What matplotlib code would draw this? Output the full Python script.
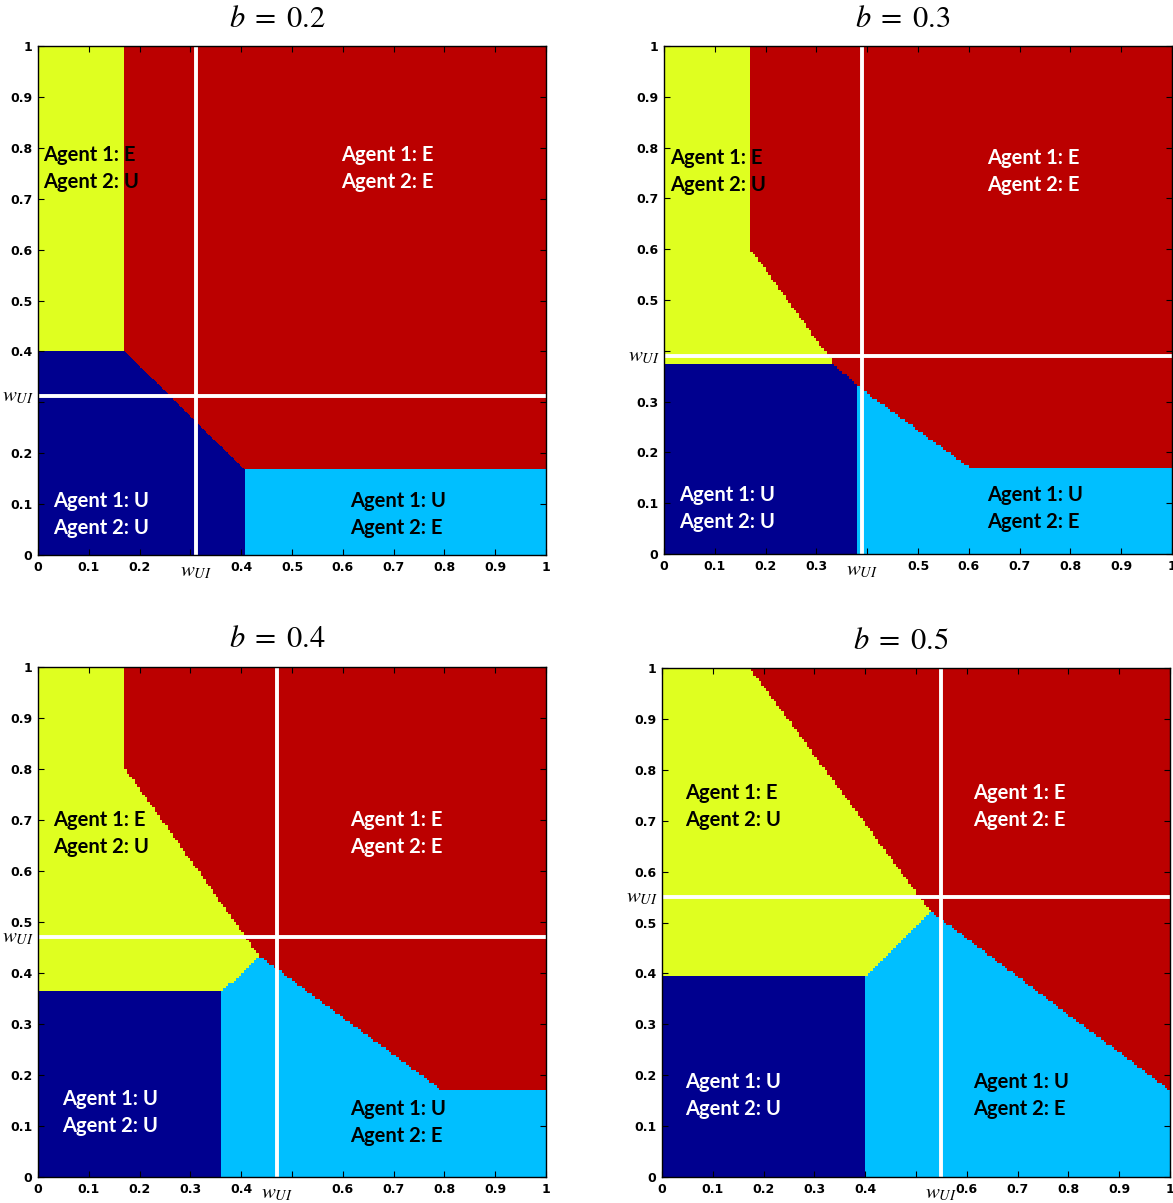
import matplotlib
matplotlib.use('Agg')
import matplotlib.pyplot as plt
import numpy as np

from matplotlib.colors import ListedColormap
from matplotlib.path import Path

# regime colours (jet-like): 0 = U/U, 1 = U/E, 2 = E/U, 3 = E/E
region_colors = ['#00008f', '#00bfff', '#dfff20', '#bb0000']

b_values = [0.2, 0.3, 0.4, 0.5]
w_ui = [0.312, 0.39, 0.47, 0.55]

# corners of each regime polygon, one list per panel; E/E fills the rest
yellow_regions = [
    [(0, 0.402), (0.169, 0.402), (0.169, 1), (0, 1)],
    [(0, 0.375), (0.334, 0.375), (0.171, 0.599), (0.171, 1), (0, 1)],
    [(0, 0.363), (0.362, 0.363), (0.436, 0.433), (0.169, 0.804), (0.169, 1), (0, 1)],
    [(0, 0.397), (0.402, 0.397), (0.528, 0.522), (0.173, 1), (0, 1)],
]
blue_regions = [
    [(0, 0), (0.406, 0), (0.406, 0.168), (0.169, 0.402), (0, 0.402)],
    [(0, 0), (0.381, 0), (0.381, 0.33), (0.334, 0.375), (0, 0.375)],
    [(0, 0), (0.362, 0), (0.362, 0.363), (0, 0.363)],
    [(0, 0), (0.402, 0), (0.402, 0.397), (0, 0.397)],
]
cyan_regions = [
    [(0.406, 0), (1, 0), (1, 0.168), (0.406, 0.168)],
    [(0.381, 0), (1, 0), (1, 0.169), (0.603, 0.169), (0.381, 0.33)],
    [(0.362, 0), (1, 0), (1, 0.168), (0.798, 0.168), (0.436, 0.433), (0.362, 0.363)],
    [(0.402, 0), (1, 0), (1, 0.17), (0.528, 0.522), (0.402, 0.397)],
]

# tick labels that give way to the w_UI label
hidden_xtick = ['0.3', '0.4', '0.5', '0.5']
hidden_ytick = ['0.3', '0.4', None, None]

region_text = ['Agent 1: E\nAgent 2: U', 'Agent 1: E\nAgent 2: E',
               'Agent 1: U\nAgent 2: U', 'Agent 1: U\nAgent 2: E']
text_colors = ['black', 'white', 'white', 'black']

# where the regime labels sit (left edge, vertical centre) in each panel
text_pos = [
    [(0.01, 0.76), (0.596, 0.76), (0.03, 0.079), (0.615, 0.079)],
    [(0.012, 0.753), (0.637, 0.753), (0.03, 0.089), (0.637, 0.09)],
    [(0.03, 0.673), (0.615, 0.673), (0.047, 0.126), (0.615, 0.107)],
    [(0.045, 0.728), (0.613, 0.728), (0.045, 0.16), (0.613, 0.16)],
]

W, H = 1173, 1203
# axes boxes in pixels: left, top, right, bottom
boxes = [(38, 46, 546, 555), (664, 46, 1172, 554),
         (38, 667, 546, 1177), (662, 668, 1170, 1177)]
# grid resolution per panel (first panel has a smooth diagonal)
grid_n = [600, 200, 200, 200]

plt.rcParams['mathtext.fontset'] = 'stix'

cmap = ListedColormap(region_colors)
ticks = np.round(np.arange(0, 1.01, 0.1), 1)

fig = plt.figure(figsize=(W / 100, H / 100), dpi=100)

for i in range(4):
    l, t, r, b = boxes[i]
    ax = fig.add_axes([l / W, 1 - b / H, (r - l) / W, (b - t) / H])

    n = grid_n[i]
    cells = (np.arange(n) + 0.5) / n
    gx, gy = np.meshgrid(cells, cells)
    pts = np.column_stack([gx.ravel(), gy.ravel()])
    grid = np.full(n * n, 3)
    grid[Path(yellow_regions[i]).contains_points(pts)] = 2
    grid[Path(blue_regions[i]).contains_points(pts)] = 0
    grid[Path(cyan_regions[i]).contains_points(pts)] = 1
    ax.imshow(grid.reshape(n, n), cmap=cmap, vmin=-0.5, vmax=3.5, origin='lower',
              extent=(0, 1, 0, 1), interpolation='nearest', aspect='auto')

    w = w_ui[i]
    ax.axvline(w, color='white', lw=2.8)
    ax.axhline(w, color='white', lw=2.8)

    ax.set_xlim(0, 1)
    ax.set_ylim(0, 1)
    labels = ['0' if v == 0 else '1' if v == 1 else f'{v:.1f}' for v in ticks]
    ax.set_xticks(ticks)
    ax.set_xticklabels(['' if s == hidden_xtick[i] else s for s in labels])
    ax.set_yticks(ticks)
    ax.set_yticklabels(['' if s == hidden_ytick[i] else s for s in labels])
    ax.tick_params(direction='in', top=True, right=True, length=4, width=0.8,
                   labelsize=9, pad=4)
    for lab in ax.get_xticklabels() + ax.get_yticklabels():
        lab.set_fontweight('bold')
    for sp in ax.spines.values():
        sp.set_linewidth(1.0)

    ax.text(w, -0.012, '$w_{UI}$', transform=ax.get_xaxis_transform(),
            ha='center', va='top', fontsize=15)
    ax.text(-0.008, w, '$w_{UI}$', transform=ax.get_yaxis_transform(),
            ha='right', va='center', fontsize=15)

    ax.text(0.47, 1.055, f'$b\\;=\\;{b_values[i]}$', transform=ax.transAxes,
            ha='center', va='center', fontsize=22)

    for k in range(4):
        x, y = text_pos[i][k]
        ax.text(x, y, region_text[k], color=text_colors[k], ha='left', va='center',
                fontsize=14.5, family='Lato', fontweight='bold', linespacing=1.45)

fig.savefig('out.png', dpi=100)
